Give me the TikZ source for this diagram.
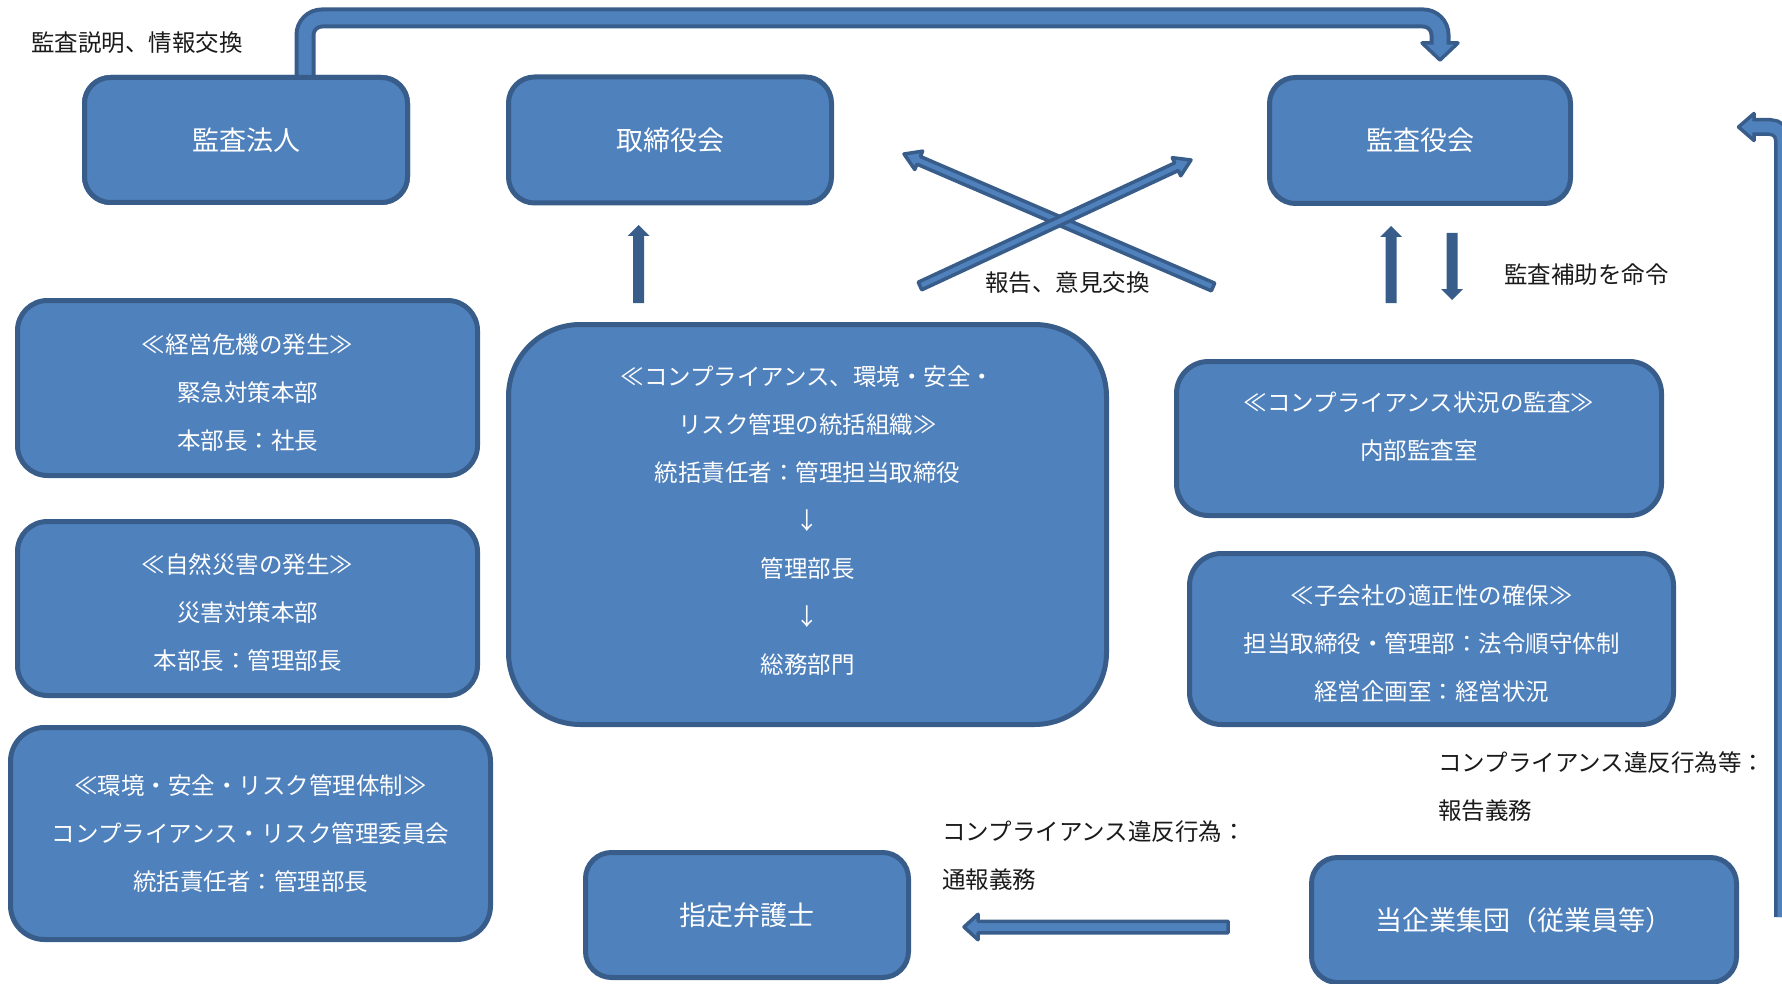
\documentclass[tikz,border=0pt]{standalone}
\usepackage{fontspec}
\newfontfamily\jp{Noto Sans CJK JP}
\usetikzlibrary{calc}
\definecolor{fillc}{HTML}{4F81BD}
\definecolor{bdr}{HTML}{385D8A}
\definecolor{ink}{HTML}{1A1A1A}
% #1 style, #2 tail coordinate, #3 tip coordinate, #4 shaft half width, #5 head half width, #6 head length
\newcommand{\fatarrow}[6]{%
  \coordinate (fa-h) at ($(#3)!#6!(#2)$);
  \path[#1] ($(#2)!#4!90:(#3)$) -- ($(fa-h)!#4!-90:(#2)$) -- ($(fa-h)!#5!-90:(#2)$) -- (#3)
    -- ($(fa-h)!#5!90:(#2)$) -- ($(fa-h)!#4!90:(#2)$) -- ($(#2)!#4!-90:(#3)$) -- cycle;}
\begin{document}
\begin{tikzpicture}[x=1pt,y=-1pt,
  box/.style={draw=bdr, fill=fillc, line width=5pt, inner sep=0pt, rounded corners=#1,
    font=\jp\fontsize{27}{48}\selectfont, text=white},
  box/.default=26pt,
  boxtxt/.style={font=\jp\fontsize{23.5}{48}\selectfont, text=white, align=center, inner sep=0pt},
  lbl/.style={font=\jp\fontsize{23.5}{48}\selectfont, text=ink, inner sep=0pt},
  hollow/.style={fill=fillc, draw=bdr, line width=3.5pt, line join=round},
  solidarr/.style={fill=bdr},
]
\useasboundingbox (0,0) rectangle (1782,984);
\clip (0,0) rectangle (1782,984);

% ---- coordinates for free connector ends
\coordinate (ta1) at (305,18);
\coordinate (ta2) at (1440,18);
\coordinate (ta3) at (1440,42);
\coordinate (ta4) at (1440,47);
\coordinate (ra0) at (1783,917);
\coordinate (ra1) at (1783,127);
\coordinate (ra2) at (1755,127);
\coordinate (ra3) at (1751,127);

% ---- boxes (drawn after the bent arrow shafts start)
\node[box, minimum width=323pt, minimum height=125pt] (hojin) at (246,140) {};
\coordinate (ta0) at ($(hojin.north)+(59,5)$);

% top bent arrow
\draw[bdr, line width=21pt, rounded corners=17pt] (ta0) -- (ta1) -- (ta2) -- (ta3);
\filldraw[hollow] (1422,43) -- (1458,43) -- (1440,60) -- cycle;
\draw[fillc, line width=13pt, rounded corners=17pt] (ta0) -- (ta1) -- (ta2) -- (ta4);

% right bent arrow
\draw[bdr, line width=18pt, rounded corners=13pt] (ra0) -- (ra1) -- (ra2);
\filldraw[hollow] (1754,113.5) -- (1754,140.5) -- (1738.5,127) -- cycle;
\draw[fillc, line width=11pt, rounded corners=13pt] (ra0) -- (ra1) -- (ra3);

% boxes
\node[box, minimum width=323pt, minimum height=125pt] (hojin) at (246,140) {監査法人};
\node[box, minimum width=323pt, minimum height=126pt] (tori) at (670,140) {取締役会};
\node[box, minimum width=301pt, minimum height=126pt] (kansa) at (1420,140.5) {監査役会};

\node[box=30pt, minimum width=460pt, minimum height=175pt,
  label={[boxtxt,yshift=-5pt]center:{≪経営危機の発生≫\\緊急対策本部\\本部長：社長}}] (kiki) at (247.5,388) {};
\node[box=30pt, minimum width=460pt, minimum height=174pt,
  label={[boxtxt,yshift=-4.5pt]center:{≪自然災害の発生≫\\災害対策本部\\本部長：管理部長}}] (saigai) at (247.5,608.5) {};
\node[box=34pt, minimum width=480pt, minimum height=212pt,
  label={[boxtxt]center:{≪環境・安全・リスク管理体制≫\\コンプライアンス・リスク管理委員会\\統括責任者：管理部長}}] (kankyo) at (250.5,833.5) {};

\node[box=72pt, minimum width=598pt, minimum height=400pt,
  label={[boxtxt,yshift=3.5pt]center:{≪コンプライアンス、環境・安全・\\リスク管理の統括組織≫\\統括責任者：管理担当取締役\\↓\\管理部長\\↓\\総務部門}}] (central) at (807.5,524.5) {};

\node[box=32pt, minimum width=485pt, minimum height=154pt,
  label={[boxtxt,yshift=12pt]center:{≪コンプライアンス状況の監査≫\\内部監査室}}] (naibu) at (1419,438.5) {};
\node[box=32pt, minimum width=484pt, minimum height=171pt,
  label={[boxtxt,yshift=-5pt]center:{≪子会社の適正性の確保≫\\担当取締役・管理部：法令順守体制\\経営企画室：経営状況}}] (kogai) at (1431.5,639) {};

\node[box, minimum width=323pt, minimum height=125pt] (bengo) at (747,915) {指定弁護士};
\node[box, minimum width=425pt, minimum height=125pt] (group) at (1524,920) {当企業集団（従業員等）};

% ---- straight arrows
\coordinate (xa0) at (1213,287);
\coordinate (xa1) at (904,154);
\coordinate (xb0) at (920,286);
\coordinate (xb1) at (1191,160);
\fatarrow{hollow}{xa0}{xa1}{4.2pt}{10pt}{16pt}
\fatarrow{hollow}{xb0}{xb1}{4.2pt}{10pt}{16pt}

\coordinate (u1a) at (638.5,303);
\coordinate (u1b) at (638.5,225);
\fatarrow{solidarr}{u1a}{u1b}{5.5pt}{11pt}{11pt}
\coordinate (u2a) at (1391,303);
\coordinate (u2b) at (1391,226);
\fatarrow{solidarr}{u2a}{u2b}{5.5pt}{11pt}{11pt}
\coordinate (d1a) at (1452,233);
\coordinate (d1b) at (1452,300);
\fatarrow{solidarr}{d1a}{d1b}{5.5pt}{11pt}{11pt}

\coordinate (la0) at (1228,927);
\coordinate (la1) at (964,927);
\fatarrow{hollow}{la0}{la1}{5.75pt}{12.75pt}{14pt}

% ---- labels
\node[lbl, anchor=west] (l1) at (31,43) {監査説明、情報交換};
\node[lbl, anchor=west] (l2) at (985,283) {報告、意見交換};
\node[lbl, anchor=west] (l3) at (1504,275) {監査補助を命令};
\node[lbl, anchor=west, align=left] (l4) at (942,856) {コンプライアンス違反行為：\\通報義務};
\node[lbl, anchor=west, align=left] (l5) at (1438,787) {コンプライアンス違反行為等：\\報告義務};
\end{tikzpicture}
\end{document}
